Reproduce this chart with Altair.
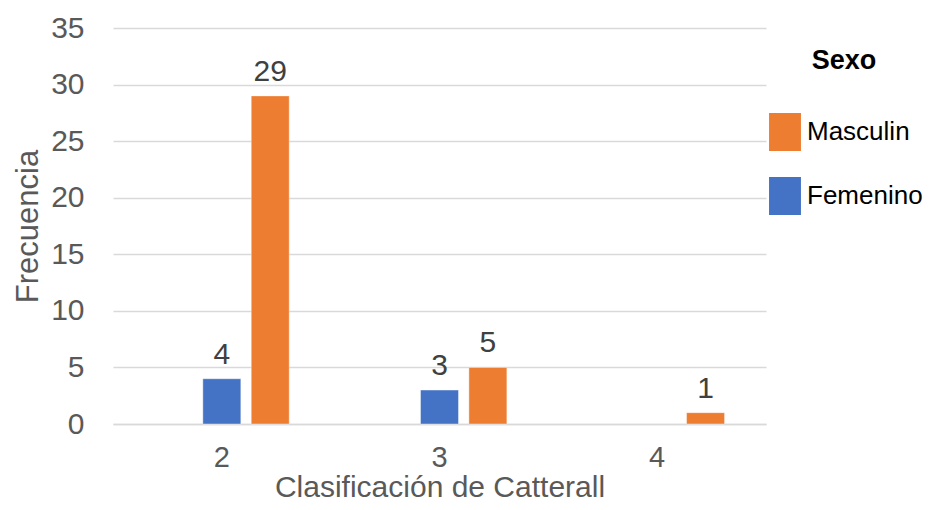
import altair as alt
import pandas as pd

categorias = ["2", "3", "4"]
femenino = [4, 3, None]
masculino = [29, 5, 1]
series = ["Femenino", "Masculino"]
colores = ["#4472C4", "#ED7D31"]
y_ticks = [0, 5, 10, 15, 20, 25, 30, 35]

rows = []
for c, f, m in zip(categorias, femenino, masculino):
    if f is not None:
        rows.append({"cat": c, "Sexo": "Femenino", "valor": f})
    if m is not None:
        rows.append({"cat": c, "Sexo": "Masculino", "valor": m})
df = pd.DataFrame(rows)

FONT = "Liberation Sans"

x = alt.X(
    "cat:N",
    sort=categorias,
    scale=alt.Scale(paddingInner=0, paddingOuter=0),
    axis=alt.Axis(
        title="Clasificación de Catterall",
        labelAngle=0,
        labelFontSize=29,
        labelColor="#595959",
        labelPadding=19,
        ticks=False,
        domain=True,
        domainColor="#D9D9D9",
        domainWidth=1.5,
        grid=False,
        titleFontSize=30,
        titleFontWeight="normal",
        titleColor="#595959",
        titlePadding=0,
    ),
)
xoff = alt.XOffset(
    "Sexo:N",
    scale=alt.Scale(domain=["_"] + series, paddingInner=0.215, paddingOuter=0.857),
)
y = alt.Y(
    "valor:Q",
    scale=alt.Scale(domain=[0, 35], nice=False),
    axis=alt.Axis(
        title="Frecuencia",
        values=y_ticks,
        labelFontSize=30,
        labelColor="#595959",
        labelPadding=29,
        ticks=False,
        domain=False,
        grid=True,
        gridColor="#D9D9D9",
        gridWidth=1.5,
        titleFontSize=31,
        titleFontWeight="normal",
        titleColor="#595959",
        titlePadding=6,
    ),
)
color = alt.Color(
    "Sexo:N",
    scale=alt.Scale(domain=series, range=colores),
    legend=alt.Legend(
        title="Sexo",
        values=["Masculino", "Femenino"],
        orient="none",
        legendX=653,
        legendY=20,
        direction="vertical",
        titleFontSize=27,
        titleFontWeight="bold",
        titleColor="#000000",
        titleAnchor="middle",
        titlePadding=38,
        labelFontSize=26,
        labelColor="#000000",
        labelOffset=3,
        labelExpr="datum.label == 'Masculino' ? 'Masculin' : datum.label",
        symbolType="M-0.84,-1L0.84,-1L0.84,1L-0.84,1Z",
        symbolSize=1444,
        symbolStrokeWidth=0,
        symbolOpacity=1,
        rowPadding=26,
        padding=0,
    ),
)

bars = alt.Chart(df).mark_bar(stroke="white", strokeOpacity=0.4, strokeWidth=1).encode(
    x=x, xOffset=xoff, y=y, color=color
)
labels = alt.Chart(df).mark_text(
    baseline="bottom", dy=-9, fontSize=30, font=FONT, color="#404040"
).encode(x=x, xOffset=xoff, y=y, text=alt.Text("valor:Q"))

chart = (
    alt.layer(bars, labels)
    .properties(
        width=653,
        height=396,
        autosize=alt.AutoSizeParams(type="none"),
        padding={"left": 105, "top": 20, "right": 164, "bottom": 78},
    )
    .configure(font=FONT)
    .configure_view(stroke=None)
)

chart.save("out.html", embed_options={"renderer": "svg", "actions": False})
